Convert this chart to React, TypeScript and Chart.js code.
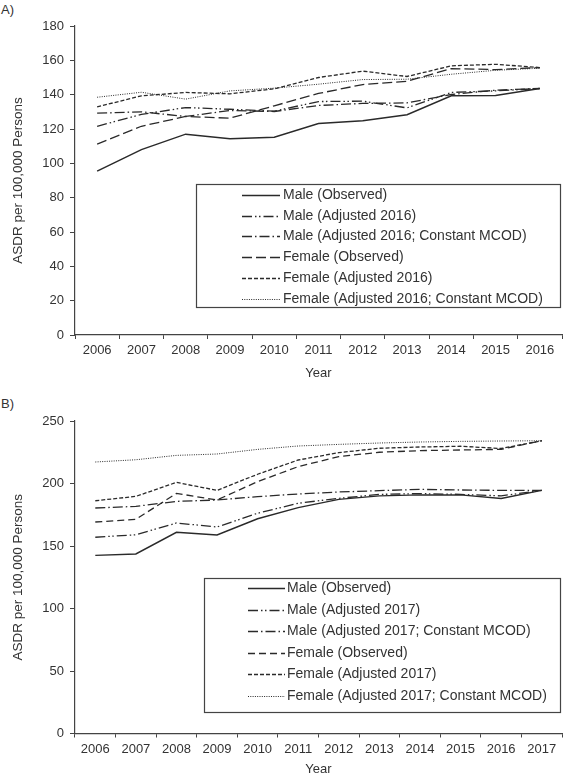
import React, { useEffect, useRef } from 'react';
import { Chart, registerables } from 'chart.js';

Chart.register(...registerables);

// ---------- Data ----------
const yearsA = ['2006', '2007', '2008', '2009', '2010', '2011', '2012', '2013', '2014', '2015', '2016'];
const yearsB = ['2006', '2007', '2008', '2009', '2010', '2011', '2012', '2013', '2014', '2015', '2016', '2017'];

const seriesLabelsA = [
  'Male (Observed)',
  'Male (Adjusted 2016)',
  'Male (Adjusted 2016; Constant MCOD)',
  'Female (Observed)',
  'Female (Adjusted 2016)',
  'Female (Adjusted 2016; Constant MCOD)',
];
const seriesLabelsB = [
  'Male (Observed)',
  'Male (Adjusted 2017)',
  'Male (Adjusted 2017; Constant MCOD)',
  'Female (Observed)',
  'Female (Adjusted 2017)',
  'Female (Adjusted 2017; Constant MCOD)',
];

const maleObsA = [95.5, 108, 117, 114.3, 115.2, 123.2, 124.8, 128.3, 139.3, 139.5, 143.6];
const maleAdjA = [121.6, 128.5, 132.5, 131.5, 130.4, 136, 136.2, 132.3, 141.3, 142.2, 143.6];
const maleConstA = [129.2, 130, 127.3, 130.8, 130.2, 133.7, 134.9, 135.2, 140.1, 142.6, 143.6];
const femObsA = [111.2, 121.6, 127.3, 126.3, 133.5, 140.7, 145.9, 147.8, 155.2, 154.6, 155.8];
const femAdjA = [132.9, 139.3, 141.3, 140.5, 143.4, 150, 153.7, 150.6, 156.8, 157.7, 155.8];
const femConstA = [138.5, 141.4, 137.4, 142.2, 143.8, 146.1, 148.8, 149, 151.9, 154.2, 155.4];

const maleObsB = [142.5, 143.6, 160.9, 158.8, 171.8, 180.7, 187.3, 190.1, 190.9, 190.9, 188.1, 194.5];
const maleAdjB = [157, 159, 168.4, 165.2, 176.2, 184.2, 188.1, 191.3, 191.9, 191.3, 190.1, 194.5];
const maleConstB = [180.4, 181.7, 185.7, 186.8, 189.5, 191.6, 193.2, 194.3, 195.3, 194.8, 194.5, 194.5];
const femObsB = [169.2, 171.3, 192.1, 186.8, 201.5, 213.5, 221.5, 225, 226.3, 226.8, 227.3, 234.2];
const femAdjB = [186.2, 189.7, 200.9, 194.5, 207.4, 218.8, 224.7, 228.2, 229.2, 229.8, 228, 234.2];
const femConstB = [217.2, 219, 222.5, 223.6, 227.3, 230, 231.3, 232.4, 233.2, 233.7, 234, 234.2];

const yMaxA = 180;
const yStepA = 20;
const yMaxB = 250;
const yStepB = 50;

// ---------- Styles ----------
const FONT = '"Liberation Sans", Arial, Helvetica, sans-serif';
const TEXT = '#333333';
const INK = '#2a2a2a';
const AXIS = '#444444';

type Style = { dash: number[]; width: number };
const stylesA: Style[] = [
  { dash: [], width: 1.5 },
  { dash: [10, 3, 1.5, 2.5, 1.5, 3], width: 1.3 },
  { dash: [10, 3, 1.5, 3], width: 1.3 },
  { dash: [10, 4], width: 1.3 },
  { dash: [4, 2], width: 1.3 },
  { dash: [1, 1.3], width: 1 },
];
const stylesB: Style[] = [
  { dash: [], width: 1.5 },
  { dash: [10, 3, 1.5, 2.5, 1.5, 3], width: 1.3 },
  { dash: [10, 3, 1.5, 3], width: 1.3 },
  { dash: [7, 4], width: 1.3 },
  { dash: [4, 2], width: 1.3 },
  { dash: [1, 1.3], width: 1 },
];

const legendBoxPlugin = {
  id: 'legendBox',
  afterDatasetsDraw(chart: any, _args: any, opts: any) {
    const ctx = chart.ctx as CanvasRenderingContext2D;
    const { box, lineX, textX, rowY0, rowDy } = opts;
    ctx.save();
    ctx.fillStyle = '#ffffff';
    ctx.fillRect(box[0], box[1], box[2] - box[0], box[3] - box[1]);
    ctx.lineWidth = 1.2;
    ctx.strokeStyle = AXIS;
    ctx.setLineDash([]);
    ctx.strokeRect(box[0] + 0.5, box[1] + 0.5, box[2] - box[0], box[3] - box[1]);
    chart.data.datasets.forEach((ds: any, i: number) => {
      const y = Math.round(rowY0 + i * rowDy) + 0.5;
      ctx.setLineDash(ds.borderDash || []);
      ctx.lineWidth = ds.borderWidth;
      ctx.strokeStyle = ds.borderColor;
      ctx.beginPath();
      ctx.moveTo(lineX[0], y);
      ctx.lineTo(lineX[1], y);
      ctx.stroke();
      ctx.setLineDash([]);
      ctx.fillStyle = TEXT;
      ctx.font = `14px ${FONT}`;
      ctx.textBaseline = 'middle';
      ctx.textAlign = 'left';
      ctx.fillText(ds.label, textX, y);
    });
    ctx.restore();
  },
};

type PanelProps = {
  top: number;
  height: number;
  years: string[];
  names: string[];
  series: number[][];
  styles: Style[];
  yMax: number;
  yStep: number;
  xAxisHeight: number;
  yearPad: number;
  legend: any;
  tag: string;
  tagTop: number;
};

function Panel(p: PanelProps) {
  const ref = useRef<HTMLCanvasElement | null>(null);
  useEffect(() => {
    if (!ref.current) return;
    const chart = new Chart(ref.current, {
      type: 'line',
      data: {
        labels: p.years,
        datasets: p.series.map((values, i) => ({
          label: p.names[i],
          data: values,
          borderColor: INK,
          backgroundColor: INK,
          borderWidth: p.styles[i].width,
          borderDash: p.styles[i].dash,
          pointRadius: 0,
          tension: 0,
          fill: false,
        })),
      },
      options: {
        animation: false,
        responsive: false,
        devicePixelRatio: 1,
        layout: { padding: { left: 0, right: 2, top: 26, bottom: 0 } },
        plugins: {
          legend: { display: false },
          tooltip: { enabled: false },
          legendBox: p.legend,
        } as any,
        scales: {
          x: {
            type: 'category',
            offset: true,
            afterFit: (s: any) => {
              s.height = p.xAxisHeight;
            },
            grid: {
              offset: true,
              drawOnChartArea: false,
              drawTicks: true,
              tickLength: 4,
              color: AXIS,
            },
            border: { display: true, color: AXIS, width: 1.2 },
            ticks: {
              color: TEXT,
              font: { family: FONT, size: 13 },
              padding: 4,
              maxRotation: 0,
              autoSkip: false,
            },
            title: {
              display: true,
              text: 'Year',
              color: TEXT,
              font: { family: FONT, size: 13 },
              padding: { top: 0, bottom: p.yearPad },
            },
          },
          y: {
            min: 0,
            max: p.yMax,
            afterFit: (s: any) => {
              s.width = 75;
            },
            grid: {
              drawOnChartArea: false,
              drawTicks: true,
              tickLength: 5,
              color: AXIS,
            },
            border: { display: true, color: AXIS, width: 1.2 },
            ticks: {
              stepSize: p.yStep,
              color: TEXT,
              font: { family: FONT, size: 13 },
              padding: 6,
            },
            title: {
              display: true,
              text: 'ASDR per 100,000 Persons',
              color: TEXT,
              font: { family: FONT, size: 13.5 },
              padding: { top: 10, bottom: 0 },
            },
          },
        },
      } as any,
      plugins: [legendBoxPlugin as any],
    });
    return () => chart.destroy();
  }, []);
  return (
    <>
      <div
        style={{
          position: 'absolute',
          left: 1,
          top: p.tagTop,
          font: `13px ${FONT}`,
          color: TEXT,
        }}
      >
        {p.tag}
      </div>
      <canvas
        ref={ref}
        width={564}
        height={p.height}
        style={{ position: 'absolute', left: 0, top: p.top, width: 564, height: p.height }}
      />
    </>
  );
}

export default function App() {
  return (
    <div
      style={{
        position: 'absolute',
        left: 0,
        top: 0,
        width: 564,
        height: 780,
        background: '#ffffff',
        overflow: 'hidden',
      }}
    >
      <Panel
        top={0}
        height={390}
        years={yearsA}
        names={seriesLabelsA}
        series={[maleObsA, maleAdjA, maleConstA, femObsA, femAdjA, femConstA]}
        styles={stylesA}
        yMax={yMaxA}
        yStep={yStepA}
        xAxisHeight={55}
        yearPad={9}
        tag="A)"
        tagTop={2}
        legend={{ box: [196, 184, 560, 307], lineX: [242, 280], textX: 283, rowY0: 195, rowDy: 20.7 }}
      />
      <Panel
        top={395}
        height={385}
        years={yearsB}
        names={seriesLabelsB}
        series={[maleObsB, maleAdjB, maleConstB, femObsB, femAdjB, femConstB]}
        styles={stylesB}
        yMax={yMaxB}
        yStep={yStepB}
        xAxisHeight={46.5}
        yearPad={3}
        tag="B)"
        tagTop={396}
        legend={{ box: [204, 183, 560, 317], lineX: [248, 285], textX: 287, rowY0: 193, rowDy: 21.5 }}
      />
    </div>
  );
}
